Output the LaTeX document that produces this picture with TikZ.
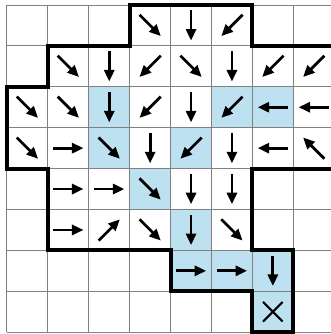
\documentclass[tikz,border=0pt]{standalone}
\usetikzlibrary{arrows.meta}
\definecolor{cellblue}{RGB}{190,225,241}
\begin{document}
\begin{tikzpicture}[x=1cm,y=1cm,
  arr/.style={line width=1.9pt,-{Triangle[width=7pt,length=8pt]}},
  gridline/.style={black!50,line width=0.7pt},
  border/.style={line width=2.8pt,line join=miter},
  crossmark/.style={line width=1.5pt}]
\useasboundingbox (-0.171,-0.044) rectangle (7.92,8.122);
\clip (-0.171,-0.044) rectangle (7.92,8.122);
% shaded cells (column / row counted from the top)
\foreach \c/\r in {2/2,5/2,6/2,2/3,4/3,3/4,4/5,4/6,5/6,6/6,6/7}
  \fill[cellblue] (\c,7-\r) rectangle ++(1,1);
% grid
\draw[gridline] (0,0) grid (8.5,8);
% region border
\draw[border] (3,8) -- (6,8) -- (6,7) -- (8.4,7) -- (8.4,4) -- (6,4) -- (6,2)
  -- (7,2) -- (7,0) -- (6,0) -- (6,1) -- (4,1) -- (4,2) -- (1,2) -- (1,4)
  -- (0,4) -- (0,6) -- (1,6) -- (1,7) -- (3,7) -- cycle;
% arrows: column / row / dx / dy
\foreach \c/\r/\dx/\dy in {
  3/0/1/-1, 4/0/0/-1, 5/0/-1/-1,
  1/1/1/-1, 2/1/0/-1, 3/1/-1/-1, 4/1/1/-1, 5/1/0/-1, 6/1/-1/-1, 7/1/-1/-1,
  0/2/1/-1, 1/2/1/-1, 2/2/0/-1, 3/2/-1/-1, 4/2/0/-1, 5/2/-1/-1, 6/2/-1/0, 7/2/-1/0,
  0/3/1/-1, 1/3/1/0, 2/3/1/-1, 3/3/0/-1, 4/3/-1/-1, 5/3/0/-1, 6/3/-1/0, 7/3/-1/1,
  1/4/1/0, 2/4/1/0, 3/4/1/-1, 4/4/0/-1, 5/4/0/-1,
  1/5/1/0, 2/5/1/1, 3/5/1/-1, 4/5/0/-1, 5/5/1/-1,
  4/6/1/0, 5/6/1/0, 6/6/0/-1}{
  \pgfmathsetmacro{\s}{(\dx*\dy==0) ? 0.37 : 0.26}
  \draw[arr] ({\c+0.5-\dx*\s},{7.5-\r-\dy*\s}) -- ({\c+0.5+\dx*\s},{7.5-\r+\dy*\s});
}
% goal mark
\coordinate (goal) at (6.5,0.5);
\draw[crossmark] ([shift={(-0.24,-0.24)}]goal) -- ([shift={(0.24,0.24)}]goal);
\draw[crossmark] ([shift={(-0.24,0.24)}]goal) -- ([shift={(0.24,-0.24)}]goal);
\end{tikzpicture}
\end{document}
